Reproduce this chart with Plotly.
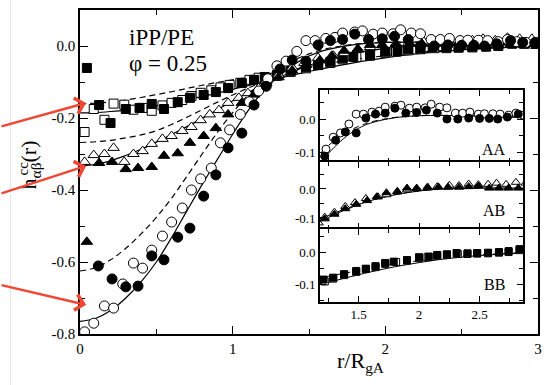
import plotly.graph_objects as go

# ---------------- data ----------------
# theory curves (solid / dashed) sampled along r/R_gA
r_curve = [0.0, 0.1, 0.2, 0.3, 0.4, 0.5, 0.6, 0.7, 0.8, 0.9, 1.0, 1.1, 1.2, 1.3, 1.4,
           1.5, 1.6, 1.8, 2.0, 2.2, 2.5, 2.8, 3.0]
aa_solid = [-0.765, -0.757, -0.735, -0.700, -0.655, -0.600, -0.532, -0.458, -0.385, -0.315,
            -0.245, -0.180, -0.125, -0.085, -0.052, -0.028, -0.012, 0.004, 0.010, 0.011,
            0.009, 0.006, 0.005]
aa_dash = [-0.625, -0.616, -0.594, -0.562, -0.522, -0.476, -0.423, -0.362, -0.300, -0.240,
           -0.185, -0.137, -0.097, -0.065, -0.040, -0.022, -0.009, 0.005, 0.010, 0.011,
           0.009, 0.006, 0.005]
ab_solid = [-0.333, -0.329, -0.319, -0.304, -0.287, -0.267, -0.246, -0.224, -0.201, -0.177,
            -0.153, -0.130, -0.108, -0.088, -0.070, -0.054, -0.040, -0.020, -0.007, 0.000,
            0.003, 0.003, 0.003]
ab_dash = [-0.268, -0.266, -0.262, -0.255, -0.247, -0.235, -0.218, -0.198, -0.177, -0.156,
           -0.136, -0.117, -0.100, -0.083, -0.067, -0.053, -0.040, -0.020, -0.007, 0.000,
           0.003, 0.003, 0.003]
bb_solid = [-0.186, -0.185, -0.182, -0.178, -0.172, -0.166, -0.158, -0.150, -0.140, -0.130,
            -0.120, -0.110, -0.100, -0.090, -0.080, -0.071, -0.062, -0.046, -0.033, -0.022,
            -0.011, -0.004, 0.000]
bb_dash = [-0.160, -0.159, -0.155, -0.150, -0.143, -0.135, -0.127, -0.118, -0.109, -0.101,
           -0.094, -0.087, -0.080, -0.072, -0.065, -0.057, -0.050, -0.037, -0.027, -0.018,
           -0.009, -0.003, 0.000]

# AA, open circles
r_oc = [0.03, 0.09, 0.16, 0.22, 0.28, 0.35, 0.41, 0.47, 0.54, 0.60, 0.67, 0.73, 0.79, 0.86,
        0.92, 0.98, 1.05, 1.11, 1.17, 1.23, 1.29, 1.35, 1.42, 1.48, 1.54, 1.61, 1.67, 1.72,
        1.80, 1.85, 1.92, 1.98, 2.05, 2.10, 2.17, 2.23, 2.30, 2.36, 2.42, 2.49, 2.54, 2.61,
        2.67, 2.74, 2.80, 2.86, 2.92, 2.98]
h_oc = [-0.794, -0.770, -0.722, -0.728, -0.661, -0.603, -0.617, -0.567, -0.528, -0.489,
        -0.450, -0.400, -0.369, -0.339, -0.269, -0.233, -0.190, -0.155, -0.125, -0.091,
        -0.055, -0.042, -0.015, 0.015, 0.015, 0.021, 0.024, 0.036, 0.039, 0.042, 0.033,
        0.036, 0.034, 0.045, 0.036, 0.034, 0.018, 0.018, 0.021, 0.015, 0.016, 0.016, 0.015,
        0.012, 0.018, 0.012, 0.010, 0.010]
# AA, filled circles
r_fc = [0.12, 0.21, 0.30, 0.38, 0.47, 0.55, 0.64, 0.72, 0.81, 0.89, 0.97, 1.06, 1.14, 1.22,
        1.31, 1.39, 1.48, 1.56, 1.64, 1.72, 1.80, 1.89, 1.98, 2.06, 2.15, 2.23, 2.32, 2.41,
        2.50, 2.58, 2.65, 2.73, 2.82, 2.90, 2.98]
h_fc = [-0.611, -0.647, -0.669, -0.667, -0.583, -0.594, -0.531, -0.506, -0.417, -0.358,
        -0.283, -0.242, -0.164, -0.112, -0.064, -0.039, -0.042, 0.003, 0.015, 0.018, 0.033,
        0.018, 0.020, 0.027, 0.018, 0.000, 0.000, 0.003, 0.002, 0.002, 0.000, 0.006, 0.015,
        0.010, 0.008]
# AB, open triangles
r_ot = [0.03, 0.09, 0.16, 0.22, 0.29, 0.35, 0.41, 0.47, 0.54, 0.60, 0.67, 0.73, 0.79, 0.85,
        0.91, 0.97, 1.04, 1.10, 1.17, 1.22, 1.30, 1.39, 1.47, 1.56, 1.66, 1.73, 1.82, 1.90,
        1.98, 2.07, 2.15, 2.25, 2.33, 2.41, 2.49, 2.57, 2.64, 2.72, 2.80, 2.88, 2.96]
h_ot = [-0.322, -0.303, -0.300, -0.283, -0.322, -0.300, -0.292, -0.272, -0.258, -0.250,
        -0.236, -0.225, -0.206, -0.190, -0.178, -0.158, -0.144, -0.131, -0.117, -0.097,
        -0.080, -0.060, -0.047, -0.033, -0.027, -0.020, -0.010, -0.003, 0.003, 0.007, 0.008,
        0.013, 0.012, 0.017, 0.015, 0.016, 0.020, 0.016, 0.023, 0.020, 0.020]
# AB, filled triangles
r_ft = [0.045, 0.125, 0.21, 0.30, 0.38, 0.47, 0.55, 0.64, 0.72, 0.81, 0.89, 0.97, 1.06, 1.14,
        1.22, 1.30, 1.39, 1.48, 1.57, 1.65, 1.73, 1.82, 1.90, 1.98, 2.07, 2.16, 2.24, 2.33,
        2.41, 2.49, 2.58, 2.66, 2.74, 2.82, 2.91, 2.99]
h_ft = [-0.544, -0.325, -0.322, -0.342, -0.339, -0.336, -0.305, -0.298, -0.269, -0.250,
        -0.228, -0.190, -0.158, -0.135, -0.103, -0.087, -0.068, -0.053, -0.040, -0.027,
        -0.013, -0.008, 0.003, 0.002, 0.004, 0.007, 0.006, 0.006, 0.008, 0.010, 0.003, 0.003,
        0.003, 0.003, 0.002, 0.000]
# BB, open squares
r_os = [0.03, 0.09, 0.16, 0.22, 0.29, 0.35, 0.41, 0.47, 0.54, 0.60, 0.67, 0.73, 0.79, 0.86,
        0.92, 0.98, 1.05, 1.11, 1.17, 1.22, 1.29, 1.38, 1.48, 1.56, 1.64, 1.72, 1.81, 1.90,
        2.00, 2.07, 2.15, 2.23, 2.32, 2.40, 2.48, 2.57, 2.66, 2.74, 2.83, 2.91, 2.99]
h_os = [-0.239, -0.175, -0.205, -0.160, -0.163, -0.177, -0.172, -0.180, -0.165, -0.158,
        -0.150, -0.139, -0.130, -0.123, -0.115, -0.108, -0.102, -0.094, -0.088, -0.092,
        -0.083, -0.072, -0.062, -0.053, -0.047, -0.037, -0.031, -0.027, -0.019, -0.016,
        -0.012, -0.009, -0.006, -0.006, -0.005, -0.004, -0.002, 0.000, 0.006, 0.006, 0.008]
# BB, filled squares
r_fs = [0.045, 0.125, 0.20, 0.30, 0.39, 0.47, 0.55, 0.64, 0.72, 0.81, 0.89, 0.97, 1.06, 1.14,
        1.21, 1.29, 1.38, 1.48, 1.56, 1.64, 1.72, 1.79, 1.90, 2.00, 2.08, 2.15, 2.23, 2.31,
        2.40, 2.48, 2.57, 2.66, 2.74, 2.83, 2.91, 2.99]
h_fs = [-0.061, -0.164, -0.214, -0.175, -0.172, -0.161, -0.175, -0.156, -0.144, -0.136,
        -0.128, -0.117, -0.103, -0.094, -0.086, -0.080, -0.069, -0.059, -0.052, -0.044,
        -0.034, -0.030, -0.025, -0.016, -0.014, -0.009, -0.007, -0.003, -0.004, -0.003,
        -0.002, 0.000, 0.003, 0.009, 0.008, 0.010]

main_xticks = [0, 1, 2, 3]
main_xlabels = ["0", "1", "2", "3"]
main_yticks = [-0.8, -0.6, -0.4, -0.2, 0.0]
main_ylabels = ["-0.8", "-0.6", "-0.4", "-0.2", "0.0"]
inset_xticks = [1.5, 2.0, 2.5]
inset_xlabels = ["1.5", "2", "2.5"]
inset_yticks = [-0.1, 0.0]
inset_ylabels = ["-0.1", "0.0"]
panel_names = ["AA", "AB", "BB"]

# ---------------- figure ----------------
SERIF = "Liberation Serif"
fig = go.Figure()


def add_curve(r, h, dash, xa, ya, width=1.2):
    fig.add_trace(go.Scatter(x=r, y=h, mode="lines", xaxis=xa, yaxis=ya, hoverinfo="skip",
                             line=dict(color="black", width=width, dash=dash,
                                       shape="spline", smoothing=1.0)))


def add_pts(r, h, symbol, filled, size, xa, ya, rmin=None):
    if rmin is not None:
        pairs = [(a, b) for a, b in zip(r, h) if a >= rmin]
        r = [p[0] for p in pairs]
        h = [p[1] for p in pairs]
    fig.add_trace(go.Scatter(x=r, y=h, mode="markers", xaxis=xa, yaxis=ya,
                             marker=dict(symbol=symbol, size=size,
                                         color="black" if filled else "white",
                                         line=dict(color="black", width=1))))


DASH = "6px,4px"
# main plot
for hs, d in [(aa_solid, "solid"), (aa_dash, DASH), (ab_solid, "solid"), (ab_dash, DASH),
              (bb_solid, "solid"), (bb_dash, DASH)]:
    add_curve(r_curve, hs, d, "x", "y")
add_pts(r_os, h_os, "square", False, 9, "x", "y")
add_pts(r_fs, h_fs, "square", True, 9, "x", "y")
add_pts(r_ot, h_ot, "triangle-up", False, 10, "x", "y")
add_pts(r_ft, h_ft, "triangle-up", True, 10, "x", "y")
add_pts(r_oc, h_oc, "circle", False, 10, "x", "y")
add_pts(r_fc, h_fc, "circle", True, 10, "x", "y")

# inset panels
add_curve(r_curve, aa_solid, "solid", "x2", "y2", 1.0)
add_curve(r_curve, aa_dash, DASH, "x2", "y2", 1.0)
add_pts(r_oc, h_oc, "circle", False, 8, "x2", "y2", 1.1)
add_pts(r_fc, h_fc, "circle", True, 8, "x2", "y2", 1.1)
add_curve(r_curve, ab_solid, "solid", "x3", "y3", 1.0)
add_curve(r_curve, ab_dash, DASH, "x3", "y3", 1.0)
add_pts(r_ot, h_ot, "triangle-up", False, 8, "x3", "y3", 1.1)
add_pts(r_ft, h_ft, "triangle-up", True, 8, "x3", "y3", 1.1)
add_curve(r_curve, bb_solid, "solid", "x4", "y4", 1.0)
add_curve(r_curve, bb_dash, DASH, "x4", "y4", 1.0)
add_pts(r_os, h_os, "square", False, 7, "x4", "y4", 1.1)
add_pts(r_fs, h_fs, "square", True, 7, "x4", "y4", 1.1)


def axis_style(tickvals, ticktext, minor_vals, ticklen, minorlen, fsize, show_labels=True):
    return dict(showline=True, linecolor="black", linewidth=1.5, mirror="ticks",
                ticks="inside", ticklen=ticklen, tickwidth=1.2, tickcolor="black",
                tickmode="array", tickvals=tickvals, ticktext=ticktext,
                showticklabels=show_labels,
                minor=dict(tickmode="array", tickvals=minor_vals, ticks="inside",
                           ticklen=minorlen, tickwidth=1.2, tickcolor="black", showgrid=False),
                showgrid=False, zeroline=False,
                tickfont=dict(family=SERIF, size=fsize, color="black"))


W, H = 544, 385
L, R, T, B = 80, 2, 10, 51
PW, PH = W - L - R, H - T - B


def px2paper_x(px):
    return (px - L) / PW


def px2paper_y(py):
    return (H - B - py) / PH


ix0, ix1 = px2paper_x(322), px2paper_x(527)
dom_aa = [px2paper_y(162), px2paper_y(90)]
dom_ab = [px2paper_y(229), px2paper_y(162)]
dom_bb = [px2paper_y(302), px2paper_y(229)]

inset_xrange = [1.18, 2.86]
inset_minor_x = [1.25, 1.75, 2.25, 2.75]
inset_minor_y = [-0.15, -0.05, 0.05]

layout = dict(
    width=W, height=H, margin=dict(l=L, r=R, t=T, b=B),
    paper_bgcolor="white", plot_bgcolor="white", showlegend=False,
    xaxis=dict(domain=[0, 1], range=[0, 3], anchor="y",
               **axis_style(main_xticks, main_xlabels, [0.5, 1.5, 2.5], 8, 5, 15)),
    yaxis=dict(domain=[0, 1], range=[-0.8, 0.1], anchor="x",
               **axis_style(main_yticks, main_ylabels, [-0.7, -0.5, -0.3, -0.1], 8, 5, 15)),
    xaxis2=dict(domain=[ix0, ix1], range=inset_xrange, anchor="y2",
                **axis_style(inset_xticks, inset_xlabels, inset_minor_x, 6, 4, 13, False)),
    yaxis2=dict(domain=dom_aa, range=[-0.13, 0.088], anchor="x2",
                **axis_style(inset_yticks, inset_ylabels, inset_minor_y, 6, 4, 13)),
    xaxis3=dict(domain=[ix0, ix1], range=inset_xrange, anchor="y3",
                **axis_style(inset_xticks, inset_xlabels, inset_minor_x, 6, 4, 13, False)),
    yaxis3=dict(domain=dom_ab, range=[-0.138, 0.093], anchor="x3",
                **axis_style(inset_yticks, inset_ylabels, inset_minor_y, 6, 4, 13)),
    xaxis4=dict(domain=[ix0, ix1], range=inset_xrange, anchor="y4",
                **axis_style(inset_xticks, inset_xlabels, inset_minor_x, 6, 4, 13)),
    yaxis4=dict(domain=dom_bb, range=[-0.156, 0.072], anchor="x4",
                **axis_style(inset_yticks, inset_ylabels, inset_minor_y, 6, 4, 13)),
)
fig.update_layout(**layout)

ann = []
# main labels
ann.append(dict(xref="x", yref="y", x=0.305, y=0.025, text="iPP/PE", showarrow=False,
                xanchor="left", yanchor="middle", font=dict(family=SERIF, size=23, color="black")))
ann.append(dict(xref="x", yref="y", x=0.305, y=-0.048, text="\u03c6 = 0.25", showarrow=False,
                xanchor="left", yanchor="middle", font=dict(family=SERIF, size=23, color="black")))
# panel labels
for nm, xa, ya, yv in [("AA", "x2", "y2", -0.091), ("AB", "x3", "y3", -0.075), ("BB", "x4", "y4", -0.10)]:
    ann.append(dict(xref=xa, yref=ya, x=2.62, y=yv, text=nm, showarrow=False,
                    xanchor="center", yanchor="middle",
                    font=dict(family=SERIF, size=16, color="black")))
# axis titles
ann.append(dict(xref="paper", yref="paper", x=px2paper_x(363), y=px2paper_y(346),
                text="r/R<sub>gA</sub>", showarrow=False, xanchor="center", yanchor="top",
                font=dict(family=SERIF, size=22, color="black")))
ann.append(dict(xref="paper", yref="paper", x=px2paper_x(30), y=px2paper_y(165),
                text="h<sub>\u03b1\u03b2</sub>(r)", textangle=-90, showarrow=False,
                xanchor="center", yanchor="middle",
                font=dict(family=SERIF, size=22, color="black")))
ann.append(dict(xref="paper", yref="paper", x=px2paper_x(23), y=px2paper_y(168),
                text="cc", textangle=-90, showarrow=False,
                xanchor="center", yanchor="middle",
                font=dict(family=SERIF, size=15, color="black")))
# red arrows pointing at the r = 0 limits
RED = "#f04632"
for hy, axp, ayp in [(-0.158, -90, 24), (-0.333, -90, 28), (-0.719, -90, -20)]:
    ann.append(dict(xref="x", yref="y", x=0.04, y=hy, ax=axp, ay=ayp, text="",
                    showarrow=True, arrowhead=4, arrowsize=1.3, arrowwidth=2.4,
                    arrowcolor=RED, standoff=0))
fig.update_layout(annotations=ann)

# faint page border line on the far left
fig.add_shape(type="line", xref="paper", yref="paper",
              x0=px2paper_x(10), x1=px2paper_x(10), y0=px2paper_y(385), y1=px2paper_y(0),
              line=dict(color="#e4e4e4", width=1))

fig.write_html("out.html")
